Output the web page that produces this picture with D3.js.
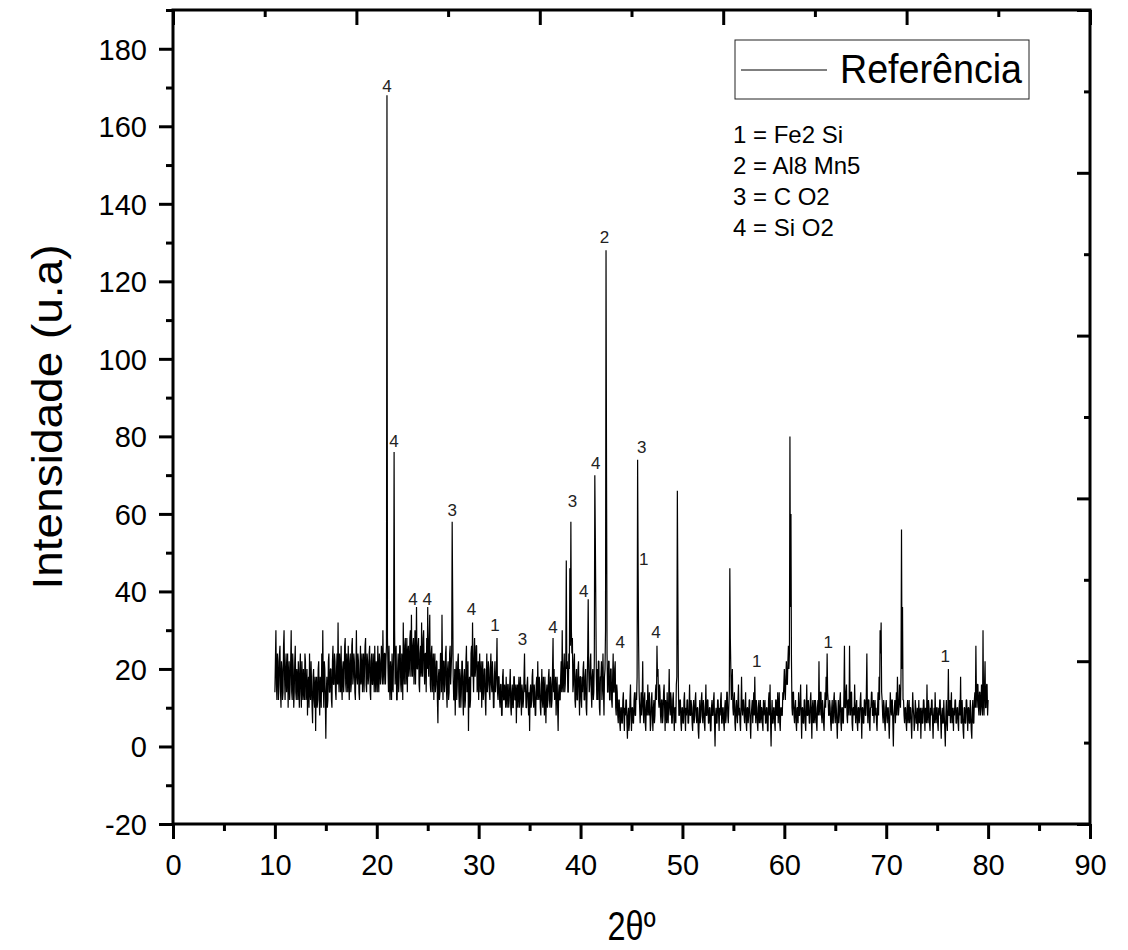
<!DOCTYPE html>
<html>
<head>
<meta charset="utf-8">
<title>Difratograma - Referência</title>
<script src="https://cdn.jsdelivr.net/npm/d3@7"></script>
<style>
  html, body { margin: 0; padding: 0; background: #fff; }
  #chart { width: 1128px; height: 950px; }
  text { font-family: Arial, "Liberation Sans", sans-serif; fill: #000; }
</style>
</head>
<body>
<div id="chart"></div>
<script>
// Difratograma (2θ de 10 a 80, passo 0.05)

const twoThetaStart = 10;
const twoThetaStep = 0.05;

// intensidades por década de 2θ (uma linha = 1 grau)
const i10 = [
  14, 22, 30, 16, 12, 24, 22, 12, 16, 24, 26, 14, 10, 22, 20, 12, 14, 26, 30, 18,
  12, 20, 24, 14, 18, 24, 10, 18, 22, 12, 16, 22, 30, 14, 12, 24, 20, 10, 14, 22,
  26, 14, 12, 20, 18, 12, 22, 16, 10, 20, 24, 14, 10, 22, 16, 12, 20, 14, 12, 24,
  22, 12, 14, 20, 8, 16, 18, 10, 24, 14, 12, 22, 16, 10, 6, 18, 20, 12, 10, 18,
  4, 16, 18, 10, 12, 20, 22, 12, 8, 18, 16, 10, 24, 14, 30, 16, 10, 22, 20, 12,
  2, 14, 18, 10, 12, 22, 24, 14, 14, 20, 20, 12, 10, 22, 26, 16, 16, 24, 22, 14,
  12, 20, 24, 16, 32, 18, 14, 24, 20, 14, 26, 16, 12, 20, 22, 14, 18, 26, 28, 16,
  14, 24, 20, 14, 26, 18, 12, 22, 24, 14, 16, 26, 28, 16, 18, 24, 22, 14, 12, 20,
  30, 18, 16, 24, 22, 14, 12, 20, 26, 16, 18, 24, 14, 20, 24, 14, 20, 26, 28, 16,
  14, 24, 22, 16, 18, 24, 26, 14, 12, 22, 24, 16, 16, 24, 20, 14, 26, 18, 14, 22
];
const i20 = [
  20, 14, 26, 18, 14, 24, 22, 16, 18, 26, 24, 16, 30, 20, 16, 24, 24, 16, 22, 26,
  168, 28, 20, 14, 26, 16, 12, 22, 18, 12, 24, 16, 14, 24, 76, 30, 16, 24, 26, 12,
  12, 20, 24, 14, 18, 26, 26, 16, 14, 24, 22, 12, 32, 20, 16, 26, 28, 16, 20, 28,
  14, 24, 26, 18, 20, 28, 30, 18, 34, 22, 18, 26, 28, 16, 22, 30, 16, 24, 36, 20,
  20, 26, 28, 16, 14, 24, 26, 18, 32, 20, 18, 28, 30, 20, 16, 24, 24, 14, 28, 20,
  36, 22, 18, 28, 34, 16, 14, 24, 26, 14, 20, 24, 12, 20, 24, 14, 16, 22, 22, 12,
  6, 18, 20, 12, 14, 24, 24, 14, 34, 20, 12, 22, 22, 14, 16, 24, 26, 14, 10, 20,
  22, 12, 14, 24, 26, 16, 20, 24, 58, 38, 18, 12, 12, 20, 8, 18, 22, 12, 16, 22,
  24, 14, 10, 20, 18, 10, 14, 22, 22, 12, 8, 18, 20, 10, 12, 22, 26, 14, 16, 22,
  4, 16, 18, 10, 12, 24, 26, 18, 32, 20, 14, 22, 28, 18, 20, 26, 26, 14, 16, 22
];
const i30 = [
  12, 20, 24, 14, 18, 22, 10, 18, 22, 12, 14, 20, 20, 12, 8, 18, 24, 14, 16, 22,
  20, 14, 12, 20, 24, 16, 14, 22, 18, 10, 10, 18, 22, 14, 16, 20, 28, 14, 12, 18,
  18, 12, 10, 16, 16, 8, 8, 18, 20, 12, 12, 16, 14, 10, 18, 12, 10, 16, 16, 10,
  12, 16, 20, 10, 8, 14, 16, 10, 10, 18, 18, 12, 12, 16, 6, 14, 16, 10, 14, 18,
  10, 14, 18, 12, 8, 16, 14, 10, 12, 18, 24, 14, 16, 10, 10, 16, 18, 12, 8, 14,
  4, 14, 16, 10, 12, 18, 20, 12, 10, 16, 14, 8, 8, 16, 18, 12, 22, 14, 12, 18,
  16, 10, 8, 14, 20, 12, 10, 18, 14, 8, 18, 12, 6, 14, 16, 10, 12, 18, 20, 12,
  10, 18, 16, 10, 12, 20, 28, 14, 20, 12, 14, 18, 8, 14, 18, 10, 4, 14, 16, 12,
  12, 18, 22, 14, 30, 16, 14, 20, 24, 14, 16, 22, 48, 20, 22, 14, 14, 24, 20, 46,
  26, 58, 30, 24, 28, 14, 16, 22, 24, 12, 10, 18, 20, 12, 12, 20, 22, 14, 8, 18
];
const i40 = [
  18, 12, 10, 18, 14, 20, 22, 12, 12, 18, 20, 10, 8, 16, 24, 38, 20, 14, 16, 22,
  24, 14, 10, 18, 20, 12, 14, 22, 70, 54, 36, 18, 12, 20, 12, 22, 22, 10, 8, 18,
  18, 22, 12, 16, 24, 14, 8, 18, 20, 30, 128, 70, 24, 14, 14, 22, 22, 12, 12, 20,
  20, 12, 10, 18, 24, 14, 14, 20, 22, 10, 8, 16, 14, 8, 6, 12, 12, 6, 4, 10,
  10, 6, 6, 12, 14, 8, 4, 10, 8, 12, 12, 6, 2, 8, 10, 4, 6, 12, 16, 8,
  4, 10, 10, 6, 6, 12, 14, 8, 8, 14, 12, 18, 74, 46, 26, 14, 10, 6, 10, 14,
  8, 12, 22, 10, 6, 12, 14, 6, 4, 10, 12, 8, 16, 10, 8, 14, 10, 4, 6, 12,
  14, 8, 4, 10, 12, 6, 8, 14, 16, 12, 26, 18, 20, 12, 10, 16, 14, 8, 6, 12,
  12, 6, 8, 14, 16, 10, 4, 12, 10, 6, 14, 8, 6, 12, 20, 10, 8, 14, 12, 6,
  6, 12, 14, 8, 4, 10, 10, 6, 16, 18, 66, 40, 16, 8, 8, 12, 12, 6, 4, 10
];
const i50 = [
  10, 6, 6, 12, 14, 8, 4, 10, 8, 12, 12, 6, 6, 10, 16, 8, 8, 12, 10, 6,
  4, 10, 12, 6, 8, 12, 14, 8, 6, 10, 10, 4, 2, 8, 12, 6, 8, 12, 14, 8,
  6, 12, 10, 6, 4, 10, 16, 8, 8, 12, 12, 6, 6, 10, 10, 4, 4, 10, 12, 8,
  8, 12, 14, 6, 0, 8, 10, 6, 6, 12, 12, 8, 4, 10, 8, 12, 14, 6, 6, 10,
  10, 6, 4, 10, 12, 6, 8, 14, 14, 8, 6, 10, 14, 46, 28, 20, 12, 16, 20, 10,
  8, 12, 14, 6, 4, 10, 12, 8, 6, 12, 16, 8, 10, 6, 4, 10, 18, 10, 8, 12,
  12, 8, 6, 10, 14, 6, 4, 10, 10, 6, 8, 12, 12, 6, 2, 8, 10, 12, 6, 10,
  14, 8, 18, 10, 6, 12, 10, 6, 4, 10, 12, 6, 8, 12, 6, 10, 10, 6, 4, 12,
  8, 10, 12, 6, 6, 10, 10, 4, 4, 12, 14, 8, 16, 6, 0, 8, 12, 6, 6, 10,
  10, 6, 4, 12, 12, 8, 8, 14, 6, 10, 14, 6, 4, 10, 10, 8, 8, 14, 12, 16
];
const i60 = [
  20, 14, 12, 18, 22, 16, 16, 22, 26, 20, 24, 80, 36, 60, 22, 10, 8, 14, 14, 8,
  6, 10, 12, 6, 4, 10, 10, 6, 14, 8, 8, 12, 16, 8, 2, 10, 10, 6, 6, 12,
  12, 6, 4, 10, 16, 8, 8, 12, 10, 6, 6, 12, 14, 8, 2, 10, 12, 6, 8, 12,
  6, 12, 10, 6, 4, 10, 12, 8, 22, 10, 8, 14, 14, 8, 6, 12, 10, 6, 4, 10,
  14, 10, 18, 12, 24, 14, 12, 8, 8, 12, 10, 6, 4, 10, 12, 6, 6, 12, 14, 8,
  6, 12, 10, 6, 2, 8, 12, 6, 8, 12, 14, 6, 4, 10, 10, 6, 6, 14, 26, 10,
  10, 14, 16, 8, 6, 12, 12, 8, 26, 12, 8, 14, 14, 6, 4, 10, 10, 8, 16, 10,
  6, 10, 12, 6, 4, 10, 10, 6, 8, 12, 14, 8, 2, 10, 10, 6, 6, 12, 12, 8,
  8, 14, 24, 10, 6, 12, 12, 6, 4, 10, 10, 14, 14, 8, 8, 12, 6, 10, 12, 8,
  10, 6, 4, 10, 14, 8, 18, 12, 30, 24, 32, 14, 12, 8, 6, 12, 10, 6, 4, 10
];
const i70 = [
  12, 8, 6, 10, 10, 6, 2, 8, 14, 10, 8, 12, 12, 6, 0, 8, 10, 12, 6, 10,
  14, 8, 18, 12, 8, 10, 16, 12, 10, 18, 56, 20, 36, 12, 12, 8, 6, 10, 10, 6,
  4, 10, 12, 6, 8, 12, 6, 10, 10, 6, 2, 8, 14, 10, 8, 4, 6, 12, 10, 6,
  6, 10, 4, 8, 12, 6, 8, 10, 2, 8, 10, 6, 6, 12, 12, 8, 4, 10, 8, 6,
  16, 8, 6, 12, 10, 6, 4, 10, 8, 12, 12, 6, 2, 8, 10, 6, 14, 8, 6, 10,
  10, 6, 4, 10, 8, 12, 12, 6, 2, 8, 10, 6, 6, 12, 8, 4, 0, 8, 12, 6,
  4, 10, 20, 8, 8, 12, 6, 10, 14, 6, 10, 8, 4, 10, 8, 12, 12, 6, 6, 10,
  10, 6, 4, 10, 12, 8, 18, 6, 6, 12, 8, 4, 2, 10, 10, 6, 6, 12, 12, 8,
  4, 10, 10, 6, 6, 12, 8, 4, 2, 10, 12, 6, 6, 12, 14, 10, 26, 14, 10, 16,
  16, 10, 8, 14, 14, 8, 10, 16, 12, 8, 30, 12, 8, 16, 22, 10, 10, 16, 16, 8,
  12
];

// identificação dos picos (fase)
const peakTheta   = [21.0, 21.7, 23.55, 24.95, 27.4, 29.3, 31.6, 34.3, 37.3, 39.2, 40.3, 41.5, 42.35, 43.9, 46.0, 46.2, 47.4, 57.3, 64.3, 75.8];
const peakLabelAt = [168.8, 77.2, 36.4, 36.4, 59.4, 33.8, 29.9, 26.1, 29.4, 61.9, 38.5, 71.7, 130, 25.5, 75.6, 46.7, 28.1, 20.4, 25.3, 21.7];
const peakPhase   = ['4', '4', '4', '4', '3', '4', '1', '3', '4', '3', '4', '4', '2', '4', '3', '1', '4', '1', '1', '1'];

const phaseKey = ['1 = Fe2 Si', '2 = Al8 Mn5', '3 = C O2', '4 = Si O2'];

const xTicks = [0, 10, 20, 30, 40, 50, 60, 70, 80, 90];
const yTicks = [-20, 0, 20, 40, 60, 80, 100, 120, 140, 160, 180];

const intensity = [].concat(i10, i20, i30, i40, i50, i60, i70);
const data = intensity.map((v, i) => ({ t: twoThetaStart + i * twoThetaStep, v: v }));

function draw() {
  const W = 1128, H = 950;
  const plot = { left: 173, right: 1090, top: 10, bottom: 824 };

  const svg = d3.select('#chart').append('svg')
    .attr('width', W)
    .attr('height', H);

  const x = d3.scaleLinear().domain([0, 90]).range([plot.left, plot.right]);
  const y = d3.scaleLinear().domain([-20, 190]).range([plot.bottom, plot.top]);

  // escalas auxiliares para os eixos de cima e da direita (só marcas)
  const xTop = d3.scaleLinear().domain([0, 100]).range([plot.left, plot.right]);
  const yRight = d3.scaleLinear().domain([0, 100]).range([plot.bottom, plot.top]);

  // curva
  const line = d3.line()
    .x(d => x(d.t))
    .y(d => y(d.v));

  svg.append('path')
    .datum(data)
    .attr('d', line)
    .attr('fill', 'none')
    .attr('stroke', '#000')
    .attr('stroke-width', 1.2)
    .attr('stroke-linejoin', 'bevel');

  // rótulos dos picos
  svg.selectAll('.peak-label')
    .data(peakTheta)
    .enter()
    .append('text')
    .attr('class', 'peak-label')
    .attr('x', d => x(d))
    .attr('y', (d, i) => y(peakLabelAt[i]))
    .attr('text-anchor', 'middle')
    .style('font-size', '17px')
    .style('fill', '#222')
    .text((d, i) => peakPhase[i]);

  const axisStroke = 3;
  const plain = d => String(d); // hífen comum no "-20", como no original

  function styleAxis(g) {
    g.select('.domain').remove();
    g.selectAll('line').attr('stroke', '#000').attr('stroke-width', axisStroke);
  }

  // eixo inferior - maiores
  const gx = svg.append('g')
    .attr('transform', `translate(0,${plot.bottom})`)
    .call(d3.axisBottom(x).tickValues(xTicks).tickSize(15).tickPadding(15).tickFormat(plain));
  styleAxis(gx);
  gx.selectAll('text').style('font-size', '29px').attr('dy', '0.72em');

  // eixo inferior - menores
  const gxm = svg.append('g')
    .attr('transform', `translate(0,${plot.bottom})`)
    .call(d3.axisBottom(x).tickValues(d3.range(5, 90, 10)).tickSize(7).tickFormat(''));
  styleAxis(gxm);

  // eixo esquerdo
  const gy = svg.append('g')
    .attr('transform', `translate(${plot.left},0)`)
    .call(d3.axisLeft(y).tickValues(yTicks).tickSize(14).tickPadding(12).tickFormat(plain));
  styleAxis(gy);
  gy.selectAll('text').style('font-size', '29px').attr('dy', '0.36em');

  const gym = svg.append('g')
    .attr('transform', `translate(${plot.left},0)`)
    .call(d3.axisLeft(y).tickValues(d3.range(-10, 191, 20)).tickSize(7).tickFormat(''));
  styleAxis(gym);

  // eixo superior (marcas para dentro)
  const gt = svg.append('g')
    .attr('transform', `translate(0,${plot.top})`)
    .call(d3.axisTop(xTop).tickValues(d3.range(0, 101, 20)).tickSize(-15).tickFormat(''));
  styleAxis(gt);
  const gtm = svg.append('g')
    .attr('transform', `translate(0,${plot.top})`)
    .call(d3.axisTop(xTop).tickValues(d3.range(10, 100, 20)).tickSize(-7).tickFormat(''));
  styleAxis(gtm);

  // eixo direito (marcas para dentro)
  const gr = svg.append('g')
    .attr('transform', `translate(${plot.right},0)`)
    .call(d3.axisRight(yRight).tickValues(d3.range(0, 101, 20)).tickSize(-13).tickFormat(''));
  styleAxis(gr);
  const grm = svg.append('g')
    .attr('transform', `translate(${plot.right},0)`)
    .call(d3.axisRight(yRight).tickValues(d3.range(10, 100, 20)).tickSize(-6).tickFormat(''));
  styleAxis(grm);

  // moldura
  svg.append('rect')
    .attr('x', plot.left)
    .attr('y', plot.top)
    .attr('width', plot.right - plot.left)
    .attr('height', plot.bottom - plot.top)
    .attr('fill', 'none')
    .attr('stroke', '#000')
    .attr('stroke-width', axisStroke);

  // títulos dos eixos
  svg.append('text')
    .attr('x', (plot.left + plot.right) / 2)
    .attr('y', 940)
    .attr('text-anchor', 'middle')
    .style('font-size', '40px')
    .attr('textLength', 48)
    .attr('lengthAdjust', 'spacingAndGlyphs')
    .text('2θº');

  svg.append('text')
    .attr('transform', `translate(62,${(plot.top + plot.bottom) / 2}) rotate(-90)`)
    .attr('text-anchor', 'middle')
    .style('font-size', '42px')
    .attr('textLength', 345)
    .attr('lengthAdjust', 'spacingAndGlyphs')
    .text('Intensidade (u.a)');

  // legenda
  const leg = svg.append('g');
  leg.append('rect')
    .attr('x', 735).attr('y', 40)
    .attr('width', 294).attr('height', 59)
    .attr('fill', '#fff')
    .attr('stroke', '#222')
    .attr('stroke-width', 1);
  leg.append('line')
    .attr('x1', 741).attr('x2', 827)
    .attr('y1', 70).attr('y2', 70)
    .attr('stroke', '#000')
    .attr('stroke-width', 1);
  leg.append('text')
    .attr('x', 840).attr('y', 83)
    .style('font-size', '41px')
    .attr('textLength', 182)
    .attr('lengthAdjust', 'spacingAndGlyphs')
    .text('Referência');

  // chave das fases
  svg.selectAll('.phase-key')
    .data(phaseKey)
    .enter()
    .append('text')
    .attr('class', 'phase-key')
    .attr('x', 733)
    .attr('y', (d, i) => 143 + i * 31)
    .style('font-size', '24px')
    .text(d => d);
}

draw();
</script>
</body>
</html>
